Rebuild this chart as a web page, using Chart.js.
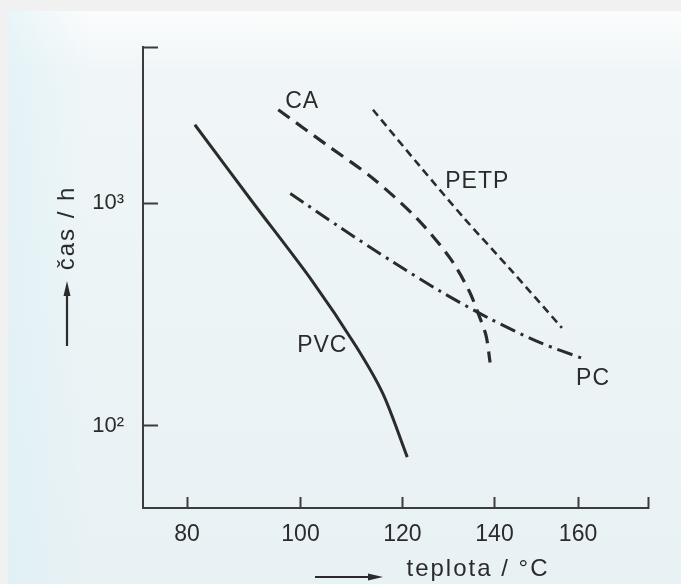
<!DOCTYPE html>
<html>
<head>
<meta charset="utf-8">
<title>čas / teplota</title>
<script src="https://cdn.jsdelivr.net/npm/chart.js"></script>
<style>
  html, body { margin: 0; padding: 0; background: #f1f1f1; overflow: hidden; }
  #page {
    position: absolute; left: 8px; top: 11px; width: 673px; height: 573px;
    background:
      linear-gradient(90deg, rgba(218, 240, 245, 0.55) 0px, rgba(218, 240, 245, 0) 80px),
      linear-gradient(180deg, #fbfcfc 0px, #f0f6f8 60px, #e8f1f4 100%);
  }
  #wrap { position: absolute; left: 0; top: 0; width: 681px; height: 584px; }
</style>
</head>
<body>
<div id="page"></div>
<div id="wrap"><canvas id="chart" width="681" height="584"></canvas></div>
<script>
// ---- data (temperature in °C, time in hours) ----
const tempsPVC  = [81.3, 91.2, 102.2, 110.6, 116, 121];
const hoursPVC  = [2260, 1020, 447, 228, 139, 72];

const tempsCA   = [95.9, 105, 114, 123, 130.1, 134.3, 136.7, 138.1, 139];
const hoursCA   = [2640, 1830, 1295, 856, 567, 403, 305, 253, 192];

const tempsPC   = [98.1, 107.5, 118.1, 127.9, 139, 150.7, 161.3];
const hoursPC   = [1109, 780, 544, 403, 302, 236, 200];

const tempsPETP = [114, 123.7, 133.4, 143.6, 156];
const hoursPETP = [2640, 1465, 848, 506, 275];

const tempTicks = [80, 100, 120, 140, 160];
const hourTicks = [100, 1000];

const tempRange = [72.8, 178.3];
const hourRange = [42.5, 5050];

const curveLabels = [
  { text: "CA",   temp: 100.3, hours: 2865 },
  { text: "PETP", temp: 136.1, hours: 1255 },
  { text: "PC",   temp: 163.8, hours: 162 },
  { text: "PVC",  temp: 104.1, hours: 228 }
];

const INK = "#2b2b2b";
const AXIS = "#3c3c3c";
const FONT = '"Liberation Sans", Arial, sans-serif';

// the x axis is a reciprocal-temperature (1/T) scale
const toAxis = t => 1000 / (t + 273.15);
const SUP = { 2: "\u00b2", 3: "\u00b3" };

function curve(label, temps, hours, dash, width) {
  return {
    label: label,
    data: temps.map((t, i) => ({ x: toAxis(t), y: hours[i] })),
    borderColor: INK,
    borderWidth: width,
    borderDash: dash,
    borderCapStyle: "butt",
    pointRadius: 0,
    tension: 0.3,
    fill: false
  };
}

function arrow(ctx, x1, y1, x2, y2) {
  const a = Math.atan2(y2 - y1, x2 - x1);
  const len = 15, half = 3.5;
  ctx.beginPath();
  ctx.moveTo(x1, y1);
  ctx.lineTo(x2 - Math.cos(a) * len * 0.8, y2 - Math.sin(a) * len * 0.8);
  ctx.stroke();
  ctx.beginPath();
  ctx.moveTo(x2, y2);
  ctx.lineTo(x2 - Math.cos(a) * len - Math.sin(a) * half, y2 - Math.sin(a) * len + Math.cos(a) * half);
  ctx.lineTo(x2 - Math.cos(a) * len + Math.sin(a) * half, y2 - Math.sin(a) * len - Math.cos(a) * half);
  ctx.closePath();
  ctx.fill();
}

// =================== LABELS + AXIS TITLES ===================
const decor = {
  id: "decor",
  afterDraw(chart) {
    const { ctx, scales: { x, y } } = chart;
    ctx.save();
    ctx.fillStyle = INK;
    ctx.strokeStyle = INK;
    ctx.textAlign = "center";
    ctx.textBaseline = "middle";

    ctx.font = "23px " + FONT;
    ctx.letterSpacing = "1px";
    curveLabels.forEach(l => {
      ctx.fillText(l.text, x.getPixelForValue(toAxis(l.temp)), y.getPixelForValue(l.hours));
    });

    // x title with arrow
    ctx.font = "24px " + FONT;
    ctx.letterSpacing = "2px";
    ctx.fillText("teplota / \u00b0C", 478, 569);
    ctx.lineWidth = 2.2;
    arrow(ctx, 315, 577, 383, 577);

    // y title with arrow
    ctx.save();
    ctx.translate(67, 228);
    ctx.rotate(-Math.PI / 2);
    ctx.fillText("\u010das / h", 0, 0);
    ctx.restore();
    arrow(ctx, 67, 346, 67, 281);

    ctx.restore();
  }
};

new Chart(document.getElementById("chart"), {
  type: "line",
  data: {
    datasets: [
      curve("PVC", tempsPVC, hoursPVC, [], 3),
      curve("CA", tempsCA, hoursCA, [14, 8], 3.2),
      curve("PC", tempsPC, hoursPC, [16, 6, 3, 6], 3),
      curve("PETP", tempsPETP, hoursPETP, [8, 5], 2.6)
    ]
  },
  options: {
    responsive: false,
    animation: false,
    layout: { padding: { left: 0, top: 45, right: 33, bottom: 0 } },
    plugins: { legend: { display: false }, tooltip: { enabled: false } },
    scales: {
      x: {
        type: "linear",
        reverse: true,
        min: toAxis(tempRange[1]),
        max: toAxis(tempRange[0]),
        afterBuildTicks: s => {
          s.ticks = tempTicks.map(t => ({ value: toAxis(t) })).concat([{ value: toAxis(tempRange[1]) }]);
        },
        afterFit: s => { s.height = 76; },
        ticks: {
          autoSkip: false,
          maxRotation: 0,
          padding: 24,
          color: INK,
          font: { family: FONT, size: 23 },
          callback: (v, i) => (i < tempTicks.length ? String(tempTicks[i]) : "")
        },
        grid: { drawOnChartArea: false, tickLength: -11, tickWidth: 2, color: AXIS },
        border: { color: AXIS, width: 2 }
      },
      y: {
        type: "logarithmic",
        min: hourRange[0],
        max: hourRange[1],
        afterBuildTicks: s => {
          s.ticks = hourTicks.map(v => ({ value: v })).concat([{ value: hourRange[1] }]);
        },
        afterFit: s => { s.width = 143; },
        ticks: {
          padding: 34,
          color: INK,
          font: { family: FONT, size: 22 },
          callback: (v, i) => (i < hourTicks.length ? "10" + SUP[Math.round(Math.log10(hourTicks[i]))] : "")
        },
        grid: { drawOnChartArea: false, tickLength: -15, tickWidth: 2, color: AXIS },
        border: { color: AXIS, width: 2 }
      }
    }
  },
  plugins: [decor]
});
</script>
</body>
</html>
